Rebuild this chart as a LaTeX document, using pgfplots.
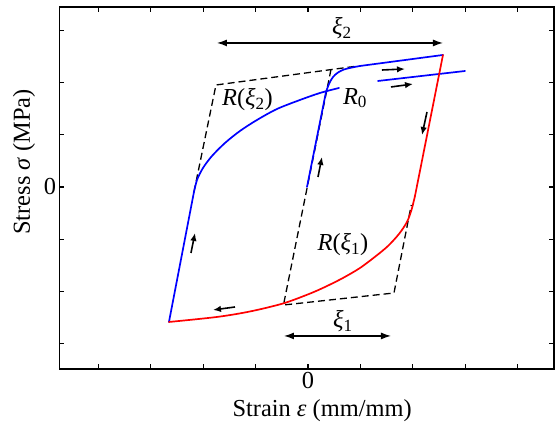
\documentclass[border=0pt]{standalone}
\usepackage{fontspec}
\setmainfont{Liberation Serif}
\usepackage{pgfplots}
\pgfplotsset{compat=1.18}
\usetikzlibrary{arrows.meta}

\newcommand{\Rxi}[1]{\textit{R}(\textit{ξ}\textsubscript{#1})}

\tikzset{
  curve/.style={line width=1.7bp, line cap=round, line join=round},
  guide/.style={black, line width=1.3bp, dash pattern=on 7bp off 4bp},
  dir/.style={black, line width=1.6bp, -{Latex[length=8bp,width=6.5bp]}},
  span/.style={black, line width=1.3bp, {Latex[length=10bp,width=7bp]}-{Latex[length=10bp,width=7bp]}},
}

\begin{document}
\begin{tikzpicture}[font=\fontsize{24.5}{28}\selectfont]
\useasboundingbox (-59.5bp,-57bp) rectangle (496.5bp,369bp);
\begin{axis}[
  at={(0,0)}, anchor=south west,
  scale only axis, width=494.5bp, height=362bp,
  xmin=-4.742, xmax=4.695, ymin=-3.487, ymax=3.448,
  xtick={-4,...,4}, ytick={-3,...,3},
  xticklabels={,,,,0,,,,}, yticklabels={,,,0,,,},
  major tick length=5bp,
  tick style={line width=1.2bp, black},
  axis line style={line width=1.6bp},
  xlabel={Strain \textit{ε} (mm/mm)},
  ylabel={Stress \textit{σ} (MPa)},
  xlabel style={at={(axis description cs:0.531,-0.116)}, anchor=center},
  ylabel style={at={(axis description cs:-0.0718,0.572)}, anchor=center},
  clip=false,
]

% dashed bilinear envelopes
\addplot[guide] coordinates {(-2.176,-0.096) (-1.756,1.954) (0.954,2.318)};
\addplot[guide] coordinates {(0.439,2.251) (-0.468,-2.261) (1.641,-2.031) (1.971,-0.345)};

% loading branch R(xi_2)
\addplot[curve, blue] coordinates {(-2.653,-2.586) (-2.176,-0.096)};
\addplot[curve, blue, smooth] coordinates {
  (-2.176,-0.096) (-2.118,0.134) (-2.004,0.364) (-1.832,0.594) (-1.584,0.843)
  (-1.298,1.073) (-0.973,1.284) (-0.592,1.494) (-0.153,1.667) (0.229,1.801) (0.592,1.897)};

% loading branch R_0
\addplot[curve, blue] coordinates {(-0.019,0) (0.344,1.820)};
\addplot[curve, blue, smooth] coordinates {
  (0.344,1.820) (0.401,1.973) (0.477,2.107) (0.573,2.193) (0.687,2.251) (0.840,2.289) (0.992,2.318)};
\addplot[curve, blue] coordinates {(0.992,2.318) (2.576,2.529)};

% asymptote
\addplot[curve, blue] coordinates {(1.336,2.031) (2.996,2.222)};

% unloading branch R(xi_1)
\addplot[curve, red] coordinates {(2.576,2.529) (2.042,-0.172)};
\addplot[curve, red, smooth] coordinates {
  (2.042,-0.172) (1.975,-0.441) (1.889,-0.670) (1.737,-0.900) (1.527,-1.130)
  (1.298,-1.322) (0.992,-1.552) (0.668,-1.743) (0.324,-1.916) (0.019,-2.050)
  (-0.477,-2.232) (-1.107,-2.385) (-1.737,-2.490) (-2.653,-2.586)};

% direction arrows
\draw[dir] (axis cs:-2.233,-1.264) -- (axis cs:-2.156,-0.881);
\draw[dir] (axis cs:-1.393,-2.299) -- (axis cs:-1.813,-2.356);
\draw[dir] (axis cs:0.191,0.192) -- (axis cs:0.267,0.575);
\draw[dir] (axis cs:1.412,2.241) -- (axis cs:1.851,2.261);
\draw[dir] (axis cs:1.584,1.916) -- (axis cs:2.004,1.973);
\draw[dir] (axis cs:2.271,1.437) -- (axis cs:2.176,0.996);

% spans
\draw[span] (axis cs:-1.737,2.759) -- (axis cs:2.576,2.759);
\node at (axis cs:0.649,3.046) {\textit{ξ}\textsubscript{2}};
\draw[span] (axis cs:-0.458,-2.854) -- (axis cs:1.584,-2.854);
\node at (axis cs:0.668,-2.567) {\textit{ξ}\textsubscript{1}};

% labels
\node[anchor=west, inner sep=0pt] at (axis cs:-1.641,1.667) {\Rxi{2}};
\node at (axis cs:0.897,1.705) {\textit{R}\textsubscript{0}};
\node at (axis cs:0.668,-1.111) {\Rxi{1}};
\end{axis}
\end{tikzpicture}
\end{document}
